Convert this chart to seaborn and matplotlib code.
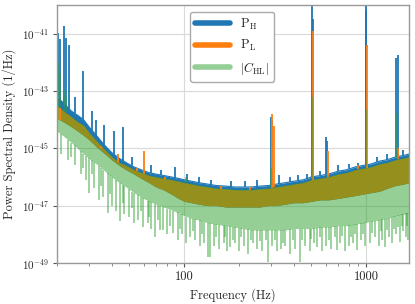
import matplotlib.pyplot as plt
import numpy as np
import pandas as pd
import seaborn as sns
from matplotlib.lines import Line2D
from matplotlib.ticker import FuncFormatter, LogLocator, NullFormatter, NullLocator

# Band samples of the spectra, log10 of PSD (1/Hz)
freq = [20, 22, 24, 26, 28, 30, 33, 36, 40, 44, 48, 53, 58, 64, 70, 77, 85, 93, 100, 110,
        120, 135, 150, 170, 190, 210, 235, 260, 290, 320, 360, 400, 450, 500, 560, 620, 700, 780, 870, 960,
        1060, 1180, 1300, 1450, 1600, 1720]
ph_top = [-43.2, -43.45, -43.7, -43.85, -44.0, -44.25, -44.55, -44.85, -45.15, -45.35,
          -45.5, -45.65, -45.75, -45.85, -45.9, -45.95, -46.0, -46.05, -46.1, -46.15,
          -46.2, -46.25, -46.3, -46.32, -46.35, -46.35, -46.35, -46.32, -46.3, -46.25,
          -46.2, -46.15, -46.1, -46.0, -45.95, -45.9, -45.8, -45.75, -45.65, -45.6,
          -45.55, -45.45, -45.4, -45.3, -45.25, -45.2]
pl_top = [-43.5, -43.73, -43.9, -44.08, -44.2, -44.45, -44.75, -45.0, -45.3, -45.5,
          -45.6, -45.75, -45.85, -45.95, -46.0, -46.05, -46.1, -46.15, -46.2, -46.25,
          -46.3, -46.35, -46.4, -46.42, -46.45, -46.45, -46.45, -46.42, -46.4, -46.35,
          -46.3, -46.25, -46.2, -46.1, -46.05, -46.0, -45.9, -45.85, -45.75, -45.7,
          -45.65, -45.55, -45.5, -45.4, -45.35, -45.3]
psd_floor = [-43.95, -44.1, -44.25, -44.4, -44.55, -44.7, -44.95, -45.15, -45.4, -45.6,
             -45.75, -45.9, -46.05, -46.2, -46.35, -46.45, -46.6, -46.75, -46.85, -46.9,
             -46.95, -47.0, -47.0, -47.05, -47.05, -47.05, -47.05, -47.05, -47.0, -47.0,
             -46.95, -46.9, -46.9, -46.85, -46.8, -46.8, -46.75, -46.7, -46.65, -46.6,
             -46.55, -46.5, -46.4, -46.3, -46.25, -46.2]
chl_top = [-43.45, -43.7, -43.88, -44.06, -44.18, -44.43, -44.73, -44.98, -45.28, -45.48,
           -45.58, -45.73, -45.83, -45.93, -45.98, -46.03, -46.08, -46.13, -46.18, -46.23,
           -46.28, -46.33, -46.38, -46.4, -46.43, -46.43, -46.43, -46.4, -46.38, -46.33,
           -46.28, -46.23, -46.18, -46.08, -46.03, -45.98, -45.88, -45.83, -45.73, -45.68,
           -45.63, -45.53, -45.48, -45.38, -45.33, -45.28]
chl_low = [-44.4, -44.6, -44.8, -45.0, -45.2, -45.35, -45.55, -45.75, -46.0, -46.2,
           -46.35, -46.55, -46.7, -46.85, -46.95, -47.05, -47.15, -47.25, -47.35, -47.45,
           -47.5, -47.6, -47.65, -47.7, -47.75, -47.8, -47.85, -47.85, -47.85, -47.85,
           -47.85, -47.8, -47.8, -47.8, -47.75, -47.75, -47.7, -47.7, -47.65, -47.6,
           -47.55, -47.5, -47.45, -47.35, -47.3, -47.25]

# Deep dips of |C_HL|
dip_freq = [21, 23, 25, 27, 29, 30, 32, 34, 36, 38, 40, 42, 44.5, 47, 50, 53, 56, 59.5, 63, 66,
            69, 74, 77, 81, 87, 92, 97, 103, 108, 115, 122, 128, 135, 139, 146, 155, 165, 172, 179, 190,
            200, 212, 225, 238, 252, 268, 289, 305, 322, 340, 360, 380, 405, 433, 460, 490, 515, 538, 570, 600,
            640, 690, 720, 760, 800, 845, 894, 940, 985, 1050, 1110, 1170, 1220, 1270, 1330, 1390, 1450,
            1540, 1600, 1660, 1700]
dip_low = [-45.2, -45.4, -45.6, -45.9, -46.1, -46.55, -46.4, -46.8, -46.7, -47.25, -47.0, -47.2, -47.55,
           -47.3, -47.4, -47.6, -47.5, -47.75, -47.6, -47.8, -48.1, -47.85, -47.85, -48.0, -47.95, -48.2,
           -48.0, -48.3, -48.1, -48.2, -48.4, -48.3, -48.8, -48.8, -48.4, -48.5, -48.3, -48.6, -48.45,
           -48.3, -48.6, -48.4, -48.7, -48.3, -48.5, -48.6, -48.97, -48.4, -48.6, -48.5, -48.4, -48.7,
           -48.5, -48.97, -48.4, -48.6, -48.3, -48.45, -48.6, -48.4, -48.5, -48.55, -48.3, -48.6, -48.4,
           -48.3, -48.55, -48.2, -48.4, -48.3, -48.1, -48.4, -48.2, -48.45, -48.1, -48.3, -48.0, -48.27,
           -47.9, -48.1, -48.2]
# Shallower dips filling the gaps
dip2_freq = [24, 28, 31, 35, 39, 46, 52, 58, 64, 72, 84, 95, 112, 125, 150, 168, 185, 206, 232, 260,
             280, 315, 350, 395, 445, 500, 555, 625, 670, 740, 820, 870, 960, 1080, 1200, 1300, 1420, 1500,
             1570, 1680]
dip2_low = [-45.3, -45.7, -45.9, -46.3, -46.6, -46.9, -47.1, -47.2, -47.4, -47.5, -47.7, -47.8, -47.9,
            -48.0, -48.1, -48.1, -48.2, -48.1, -48.2, -48.25, -48.2, -48.2, -48.3, -48.2, -48.2, -48.15,
            -48.1, -48.2, -48.1, -48.05, -48.1, -48.0, -48.0, -47.95, -47.9, -47.85, -47.8, -47.75, -47.7,
            -47.7]

# Narrow lines (frequency, log10 peak)
ph_line_freq = [20.2, 20.8, 21.9, 22.5, 23.4, 25, 27.9, 31, 33, 36.5, 41.0, 46.2, 52, 66, 75, 89, 104, 120,
                140, 180, 215, 250, 300, 303, 330, 380, 420, 470, 504, 510, 560, 603, 607, 700, 800, 903,
                995, 1000, 1150, 1300, 1465, 1485, 1600]
ph_line_peak = [-40.97, -41.2, -40.75, -41.15, -41.4, -43.2, -42.3, -43.7, -44.0, -44.2, -44.4, -44.25,
                -45.3, -45.6, -45.75, -45.65, -45.9, -46.0, -46.1, -46.15, -46.15, -46.1, -43.9, -44.0,
                -45.95, -46.0, -45.95, -45.9, -40.05, -40.5, -45.8, -44.6, -44.75, -45.6, -45.55, -45.5,
                -39.9, -40.2, -45.3, -45.2, -41.85, -41.75, -45.05]
pl_line_freq = [20.8, 35, 43.5, 55, 60.3, 78, 160, 230, 305, 312, 509, 618, 905, 1010, 1490]
pl_line_peak = [-44.0, -45.0, -45.2, -45.7, -45.1, -46.0, -46.3, -46.35, -43.82, -44.24, -40.9, -45.1,
                -45.6, -41.4, -45.0]
chl_line_freq = [20.2, 20.8, 21.9, 22.5, 103, 301, 505, 997, 1475]
chl_line_peak = [-42.0, -42.4, -42.96, -43.2, -46.0, -45.7, -43.2, -43.66, -43.76]

blue, orange, green = "#1f77b4", "#ff7f0e", "#2ca02c"

sns.set_style("ticks")
plt.rcParams.update({
    "font.family": "serif",
    "font.serif": ["cmr10"],
    "mathtext.fontset": "cm",
    "axes.formatter.use_mathtext": True,
    "axes.unicode_minus": False,
    "font.size": 9,
})

df = pd.DataFrame({
    "freq": freq,
    "ph_top": np.power(10.0, ph_top),
    "pl_top": np.power(10.0, pl_top),
    "floor": np.power(10.0, psd_floor),
    "chl_top": np.power(10.0, chl_top),
    "chl_low": np.power(10.0, chl_low),
})
logf = np.log10(freq)


def base_at(f, levels):
    return np.power(10.0, np.interp(np.log10(f), logf, levels))


fig = plt.figure(figsize=(4.15, 3.04), dpi=100)
ax = fig.add_axes([0.137, 0.135, 0.849, 0.849])
ax.set_xscale("log")
ax.set_yscale("log")

# P_H
ax.fill_between(df["freq"], df["floor"], df["ph_top"], color=blue, lw=0)
sns.lineplot(data=df, x="freq", y="ph_top", color=blue, lw=0.8, ax=ax)
ax.vlines(ph_line_freq, base_at(ph_line_freq, ph_top), np.power(10.0, ph_line_peak), color=blue, lw=1.3)

# P_L
ax.fill_between(df["freq"], df["floor"], df["pl_top"], color=orange, lw=0)
ax.vlines(pl_line_freq, base_at(pl_line_freq, pl_top), np.power(10.0, pl_line_peak), color=orange, lw=1.3)

# |C_HL|
ax.fill_between(df["freq"], df["chl_low"], df["chl_top"], color=green, alpha=0.5, lw=0)
ax.vlines(dip_freq, np.power(10.0, dip_low), base_at(dip_freq, chl_low), color=green, alpha=0.5, lw=1.3)
ax.vlines(dip2_freq, np.power(10.0, dip2_low), base_at(dip2_freq, chl_low), color=green, alpha=0.5, lw=1.3)
ax.vlines(chl_line_freq, base_at(chl_line_freq, chl_top), np.power(10.0, chl_line_peak),
          color=green, alpha=0.5, lw=1.3)

ax.set_xlim(20, 1720)
ax.set_ylim(1e-49, 1e-40)
ax.set_yticks([1e-49, 1e-47, 1e-45, 1e-43, 1e-41])
ax.yaxis.set_minor_locator(NullLocator())
ax.set_xticks([100, 1000])
ax.xaxis.set_major_formatter(FuncFormatter(lambda v, p: f"{v:g}"))
ax.xaxis.set_minor_locator(LogLocator(base=10, subs=np.arange(2, 10)))
ax.xaxis.set_minor_formatter(NullFormatter())

ax.grid(True, which="major", color="#dadada", lw=0.8)
for s in ax.spines.values():
    s.set_color("#999999")
    s.set_linewidth(1.0)
ax.tick_params(which="major", direction="out", length=3, width=0.8, color="#555555", labelsize=9, pad=2.5)
ax.tick_params(axis="y", labelsize=8)
ax.tick_params(which="minor", direction="out", length=2, width=0.6, color="#777777")

ax.set_xlabel("Frequency (Hz)", fontsize=9, labelpad=4)
ax.set_ylabel("Power Spectral Density (1/Hz)", fontsize=9, labelpad=4)

handles = [Line2D([], [], color=blue, lw=4),
           Line2D([], [], color=orange, lw=4),
           Line2D([], [], color=green, alpha=0.5, lw=4)]
labels = [r"$\mathrm{P_H}$", r"$\mathrm{P_L}$", r"$|C_{\mathrm{HL}}|$"]
ax.legend(handles, labels, loc="upper left", bbox_to_anchor=(0.378, 0.973), borderaxespad=0,
          fontsize=9, handlelength=2.8, edgecolor="#aaaaaa", framealpha=1.0)

fig.savefig("out.png", dpi=100)
